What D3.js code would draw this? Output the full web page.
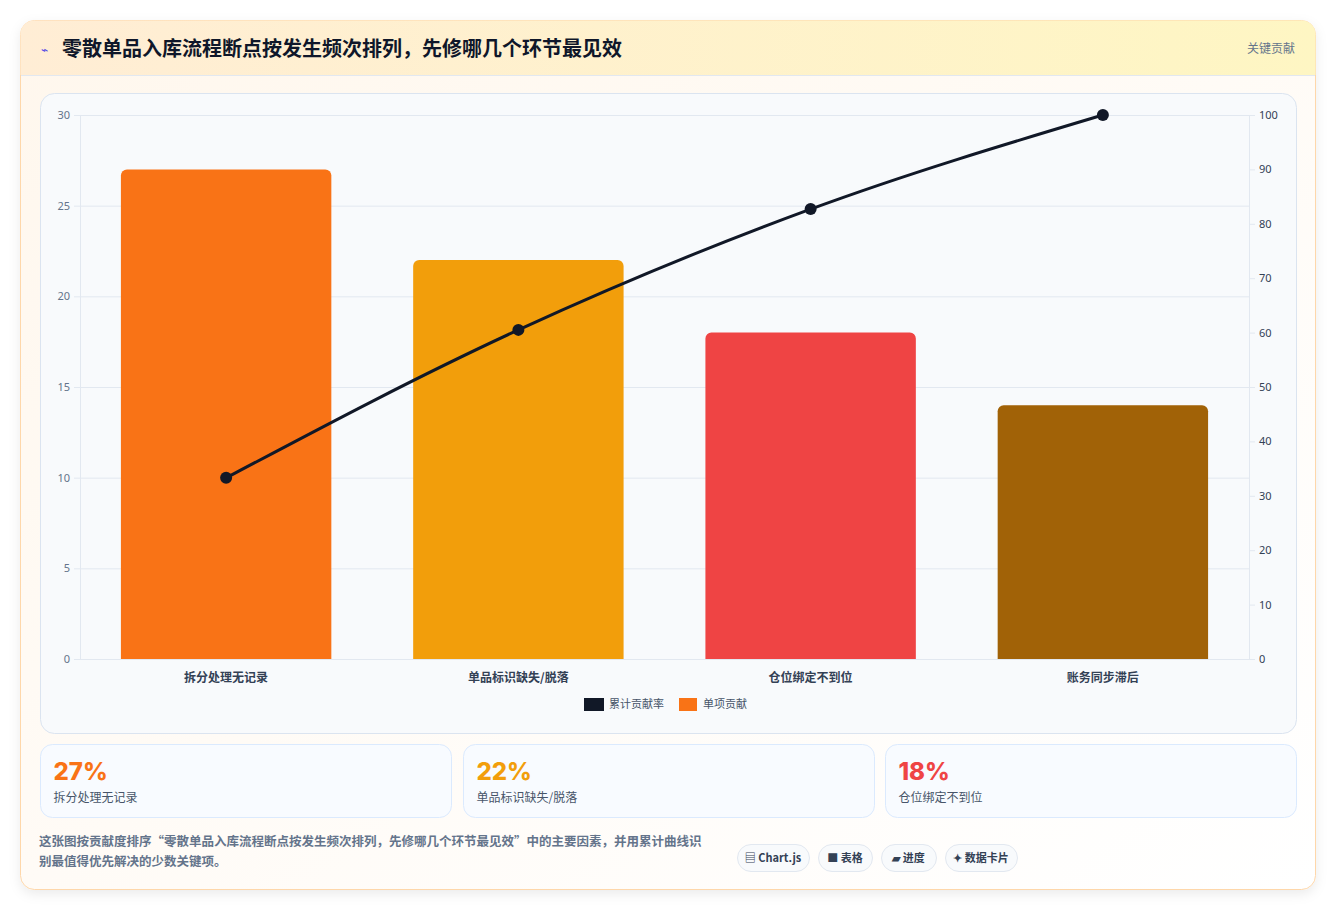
<!DOCTYPE html>
<html><head><meta charset="utf-8">
<script src="https://cdn.jsdelivr.net/npm/d3@7"></script>
<style>
body{margin:0;background:#fff;font-family:"Noto Sans CJK SC","Noto Sans",sans-serif;}
svg{display:block}
</style></head><body>
<svg id="c" width="1336" height="912"></svg>
<script>
const categories=["拆分处理无记录","单品标识缺失/脱落","仓位绑定不到位","账务同步滞后"];
const values=[27,22,18,14];
const cumulative=[33.3,60.5,82.7,100];
const barColors=["#f97316","#f29e0b","#ef4444","#a16207"];
const leftTicks=[0,5,10,15,20,25,30];
const rightTicks=[0,10,20,30,40,50,60,70,80,90,100];
const kpiValues=["27%","22%","18%"];
const kpiColors=["#f97316","#f29e0b","#ef4444"];
const pills=["▤ Chart.js","■ 表格","▰ 进度","✦ 数据卡片"];
const title="零散单品入库流程断点按发生频次排列，先修哪几个环节最见效";

const svg=d3.select("#c");
const defs=svg.append("defs");
const hg=defs.append("linearGradient").attr("id","hg");
hg.append("stop").attr("offset","0").attr("stop-color","#ffedd5");
hg.append("stop").attr("offset","1").attr("stop-color","#fef6c3");
const bg=defs.append("linearGradient").attr("id","bg").attr("x1",0).attr("y1",0).attr("x2",1).attr("y2",1);
bg.append("stop").attr("offset","0").attr("stop-color","#fff7ed");
bg.append("stop").attr("offset","1").attr("stop-color","#ffffff");
const f=defs.append("filter").attr("id","sh").attr("x","-5%").attr("y","-5%").attr("width","110%").attr("height","110%");
f.append("feDropShadow").attr("dx",0).attr("dy",4).attr("stdDeviation",6).attr("flood-color","#000").attr("flood-opacity",0.08);

svg.append("rect").attr("x",20.5).attr("y",20.5).attr("width",1295).attr("height",869).attr("rx",14)
 .attr("fill","url(#bg)").attr("stroke","#fed7aa").attr("filter","url(#sh)");
svg.append("path").attr("d","M20.5,75 V34.5 a14,14 0 0 1 14,-14 H1301.5 a14,14 0 0 1 14,14 V75 Z").attr("fill","url(#hg)");
svg.append("line").attr("x1",21).attr("x2",1315).attr("y1",75.5).attr("y2",75.5).attr("stroke","#e2e8f0");
svg.append("text").attr("x",41).attr("y",54).attr("font-size",12).attr("fill","#4f46e5").text("⌁");
svg.append("text").attr("x",62).attr("y",56).attr("font-size",20).attr("font-weight",700).attr("fill","#0f172a").text(title);
svg.append("text").attr("x",1295).attr("y",53).attr("text-anchor","end").attr("font-size",12).attr("fill","#64748b").text("关键贡献");

svg.append("rect").attr("x",40.5).attr("y",93.5).attr("width",1256).attr("height",640).attr("rx",14).attr("fill","#f8fafc").attr("stroke","#dbe4f0");
const m={l:80,r:1249,t:115,b:659};
const x=d3.scaleBand().domain(categories).range([m.l,m.r]).paddingInner(0.28).paddingOuter(0.14);
const y=d3.scaleLinear().domain([0,30]).range([m.b,m.t]);
const y2=d3.scaleLinear().domain([0,100]).range([m.b,m.t]);
const g=svg.append("g");
g.selectAll(".gl").data(leftTicks).join("line").attr("x1",m.l).attr("x2",m.r).attr("y1",d=>y(d)+.5).attr("y2",d=>y(d)+.5).attr("stroke","#e2e8f0");
g.append("line").attr("x1",m.l+.5).attr("x2",m.l+.5).attr("y1",m.t).attr("y2",m.b).attr("stroke","#e2e8f0");
g.append("line").attr("x1",m.r+.5).attr("x2",m.r+.5).attr("y1",m.t).attr("y2",m.b).attr("stroke","#e2e8f0");
const ax=g.append("g").attr("transform",`translate(${m.l},0)`).call(d3.axisLeft(y).tickValues(leftTicks).tickSize(6).tickPadding(4));
const ax2=g.append("g").attr("transform",`translate(${m.r},0)`).call(d3.axisRight(y2).tickValues(rightTicks).tickSize(6).tickPadding(4));
[ax,ax2].forEach(a=>{a.select(".domain").remove();a.selectAll("line").attr("stroke","#e2e8f0");a.selectAll("text").attr("font-size",11).attr("fill","#64748b").attr("font-family","Noto Sans, sans-serif");});
ax2.selectAll("text").attr("fill","#334155");
const r=6;
g.selectAll(".bar").data(values).join("path").attr("fill",(d,i)=>barColors[i])
 .attr("d",(d,i)=>{const x0=x(categories[i]),w=x.bandwidth(),y0=y(d);
  return `M${x0},${m.b} V${y0+r} a${r},${r} 0 0 1 ${r},${-r} H${x0+w-r} a${r},${r} 0 0 1 ${r},${r} V${m.b} Z`;});
g.selectAll(".xl").data(categories).join("text").attr("x",d=>x(d)+x.bandwidth()/2).attr("y",682).attr("text-anchor","middle")
 .attr("font-size",12).attr("font-weight",600).attr("fill","#334155").text(d=>d);
const line=d3.line().x((d,i)=>x(categories[i])+x.bandwidth()/2).y(d=>y2(d)).curve(d3.curveMonotoneX);
g.append("path").attr("d",line(cumulative)).attr("fill","none").attr("stroke","#111827").attr("stroke-width",3);
g.selectAll(".pt").data(cumulative).join("circle").attr("cx",(d,i)=>x(categories[i])+x.bandwidth()/2).attr("cy",d=>y2(d)).attr("r",6).attr("fill","#111827");
svg.append("rect").attr("x",584).attr("y",698).attr("width",20).attr("height",13).attr("fill","#111827");
svg.append("text").attr("x",609).attr("y",708).attr("font-size",11).attr("fill","#475569").text("累计贡献率");
svg.append("rect").attr("x",679).attr("y",698).attr("width",18).attr("height",13).attr("fill","#f97316");
svg.append("text").attr("x",703).attr("y",708).attr("font-size",11).attr("fill","#475569").text("单项贡献");

const kx=[40.5,463.5,885.5];
kpiValues.forEach((v,i)=>{
 svg.append("rect").attr("x",kx[i]).attr("y",744.5).attr("width",411).attr("height",73).attr("rx",12).attr("fill","#f8fbff").attr("stroke","#dbeafe");
 svg.append("text").attr("x",kx[i]+13).attr("y",780).attr("font-size",24).attr("font-weight",800).attr("fill",kpiColors[i]).attr("font-family","Inter, Noto Sans, sans-serif").text(v);
 svg.append("text").attr("x",kx[i]+13).attr("y",802).attr("font-size",12).attr("fill","#475569").text(categories[i]);
});
svg.append("text").attr("x",39).attr("y",846).attr("font-size",12.5).attr("font-weight",600).attr("fill","#64748b").text("这张图按贡献度排序“零散单品入库流程断点按发生频次排列，先修哪几个环节最见效”中的主要因素，并用累计曲线识");
svg.append("text").attr("x",39).attr("y",866).attr("font-size",12.5).attr("font-weight",600).attr("fill","#64748b").text("别最值得优先解决的少数关键项。");
let px=737;
const pw=[72,54,55,72];
pills.forEach((p,i)=>{
 svg.append("rect").attr("x",px+.5).attr("y",844.5).attr("width",pw[i]).attr("height",27).attr("rx",13.5).attr("fill","#f8fafc").attr("stroke","#e2e8f0");
 svg.append("text").attr("x",px+pw[i]/2).attr("y",862).attr("text-anchor","middle").attr("font-size",11).attr("font-weight",700).attr("fill","#334155").text(p);
 px+=pw[i]+9;
});
</script></body></html>
